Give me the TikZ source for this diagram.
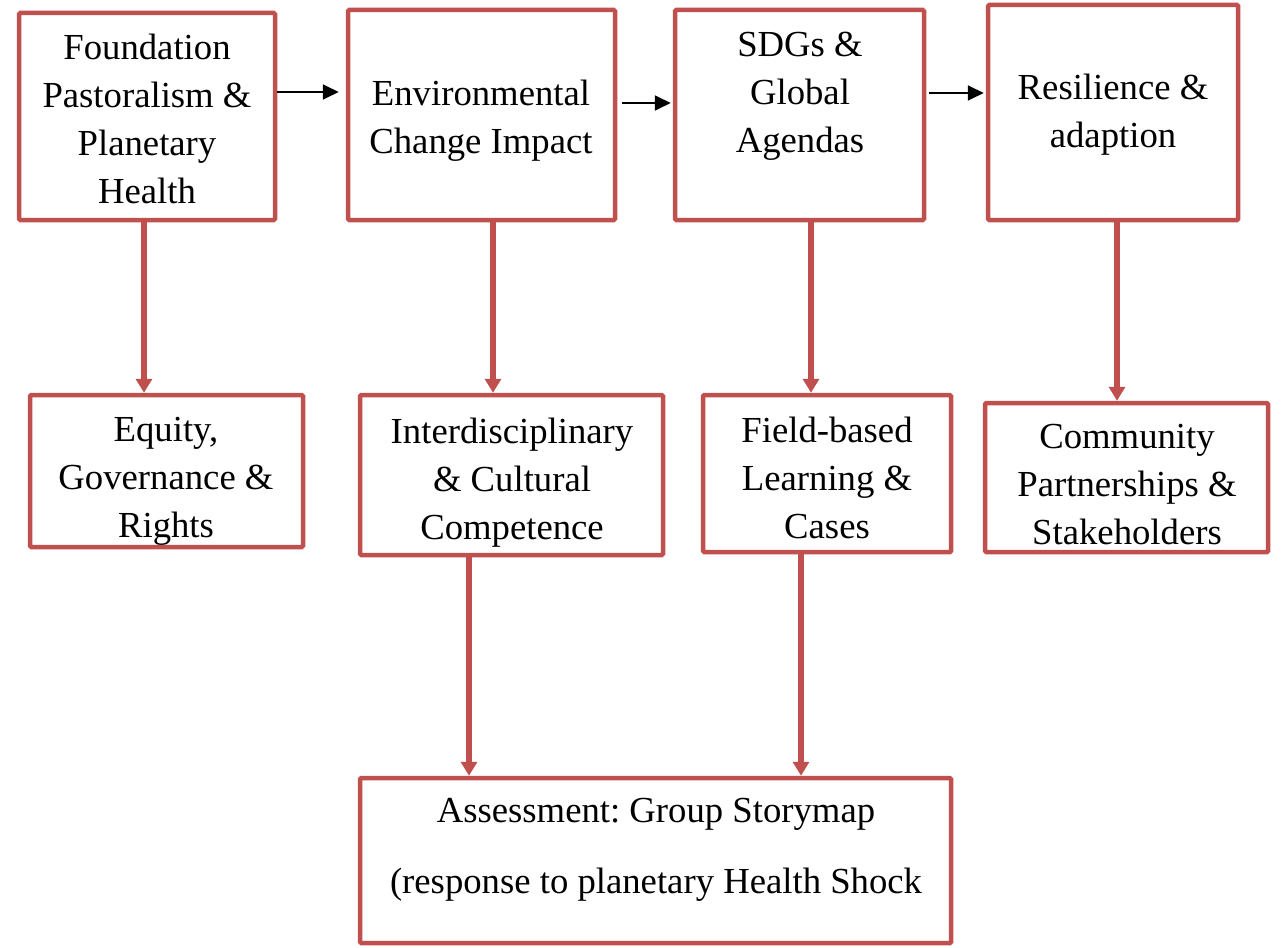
\documentclass[tikz,border=0pt]{standalone}
\usepackage{fontspec}
\setmainfont{Liberation Serif}
\usetikzlibrary{arrows.meta}
\definecolor{boxred}{HTML}{C0504D}
\frenchspacing
\begin{document}
\begin{tikzpicture}[x=1pt,y=-1pt,
  box/.style={draw=boxred,line width=4.5pt,rounded corners=1.2pt,inner sep=0pt,fill=none},
  txt/.style={inner sep=0pt,align=center,anchor=north,font=\fontsize{36.7}{48}\selectfont,
    execute at begin node=\strut,execute at end node=\strut},
  redarrow/.style={draw=boxred,line width=5.5pt,-{Triangle[width=16pt,length=14pt]}},
  blackarrow/.style={draw=black,line width=1.8pt,-{Triangle[width=15pt,length=16pt]}}]
\useasboundingbox (0,0) rectangle (1281,947);
% boxes
\node[box,minimum width=256pt,minimum height=207pt] (b1) at (147,116.5) {};
\node[box,minimum width=267pt,minimum height=210pt] (b2) at (481.5,115) {};
\node[box,minimum width=249pt,minimum height=210pt] (b3) at (799.5,115) {};
\node[box,minimum width=250pt,minimum height=215pt] (b4) at (1113,112.5) {};
\node[box,minimum width=273pt,minimum height=152pt] (b5) at (166.5,471) {};
\node[box,minimum width=303pt,minimum height=160pt] (b6) at (511.5,475) {};
\node[box,minimum width=248pt,minimum height=157pt] (b7) at (827,473.5) {};
\node[box,minimum width=283pt,minimum height=149pt] (b8) at (1126.5,477.5) {};
\node[box,minimum width=591pt,minimum height=165pt] (b9) at (655.5,860.5) {};
% texts
\node[txt] (t1) at (147,33.4) {Foundation\\Pastoralism \&\\Planetary\\Health};
\node[txt] (t2) at (481,79.4) {Environmental\\Change Impact};
\node[txt] (t3) at (800,31.4) {SDGs \&\\Global\\Agendas};
\node[txt] (t4) at (1113,73.4) {Resilience \&\\adaption};
\node[txt] (t5) at (166,417.4) {Equity,\\Governance \&\\Rights};
\node[txt] (t6) at (512,417.4) {Interdisciplinary\\\& Cultural\\Competence};
\node[txt] (t7) at (827,416.4) {Field-based\\Learning \&\\Cases};
\node[txt] (t8) at (1127,424.4) {Community\\Partnerships \&\\Stakeholders};
\node[txt] (t9) at (656,798.4) {Assessment: Group Storymap\\[23pt](response to planetary Health Shock};
% horizontal arrows
\draw[blackarrow,shorten >=7pt] (b1.east |- 0,92) -- (b2.west |- 0,92);
\draw[blackarrow,shorten >=2pt,shorten <=5pt] (b2.east |- 0,103) -- (b3.west |- 0,103);
\draw[blackarrow,shorten >=2pt,shorten <=3pt] (b3.east |- 0,93) -- (b4.west |- 0,93);
% vertical arrows
\draw[redarrow] ([xshift=-3pt]b1.south) -- ([xshift=-3pt]b1.south |- b5.north);
\draw[redarrow] ([xshift=11.5pt]b2.south) -- ([xshift=11.5pt]b2.south |- b6.north);
\draw[redarrow] ([xshift=11.5pt]b3.south) -- ([xshift=11.5pt]b3.south |- b7.north);
\draw[redarrow] ([xshift=4pt]b4.south) -- ([xshift=4pt]b4.south |- b8.north);
\draw[redarrow] ([xshift=-42.5pt]b6.south) -- ([xshift=-42.5pt]b6.south |- b9.north);
\draw[redarrow] ([xshift=-26pt]b7.south) -- ([xshift=-26pt]b7.south |- b9.north);
\end{tikzpicture}
\end{document}
